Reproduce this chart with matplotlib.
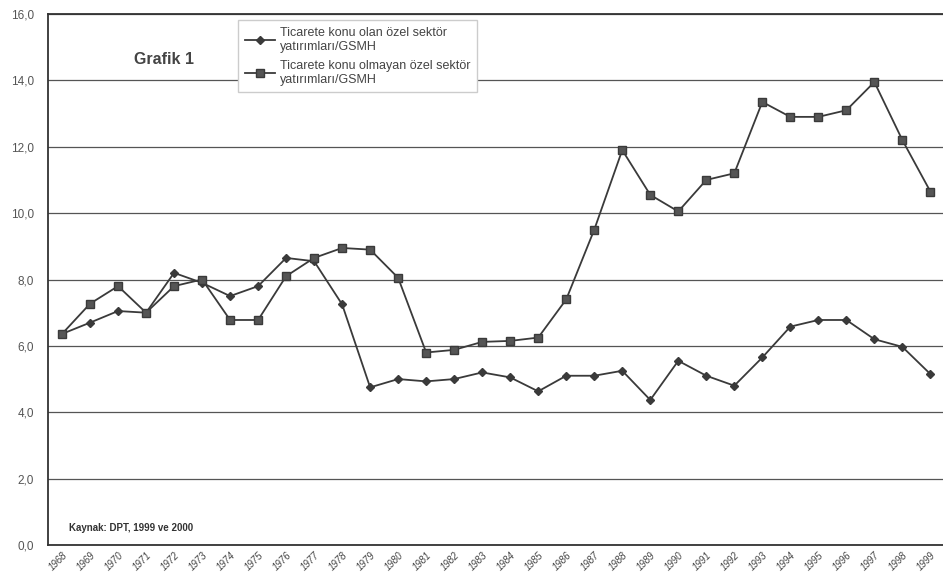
import matplotlib
matplotlib.use("Agg")
import matplotlib.pyplot as plt
from matplotlib.ticker import FuncFormatter

years = list(range(1968, 2000))
olan = [6.36, 6.7, 7.05, 7.0, 8.2, 7.9, 7.5, 7.8, 8.65, 8.55, 7.25, 4.75, 5.0, 4.93,
        5.0, 5.2, 5.05, 4.63, 5.1, 5.1, 5.25, 4.37, 5.55, 5.1, 4.8, 5.65, 6.58, 6.78,
        6.78, 6.2, 5.97, 5.15]
olmayan = [6.36, 7.27, 7.8, 7.0, 7.8, 8.0, 6.78, 6.78, 8.1, 8.65, 8.95, 8.9, 8.05, 5.8,
           5.88, 6.12, 6.15, 6.25, 7.4, 9.5, 11.9, 10.55, 10.05, 11.0, 11.2, 13.35, 12.9,
           12.9, 13.1, 13.95, 12.2, 10.65]
label_olan = "Ticarete konu olan özel sektör\nyatırımları/GSMH"
label_olmayan = "Ticarete konu olmayan özel sektör\nyatırımları/GSMH"
yticks = [0, 2, 4, 6, 8, 10, 12, 14, 16]

plt.rcParams['font.family'] = ['Liberation Sans', 'DejaVu Sans']

fig = plt.figure(figsize=(9.43, 5.83), dpi=100)
ax = fig.add_axes([48/943, 1-545/583, 895/943, 531/583])

col = '#3a3a3a'
ax.plot(years, olan, color=col, lw=1.3, marker='D', ms=4.5, mfc=col, mec=col, label=label_olan)
ax.plot(years, olmayan, color=col, lw=1.3, marker='s', ms=6, mfc='#555555', mec=col, label=label_olmayan)

ax.set_xlim(1967.5, 1999.45)
ax.set_ylim(0, 16)
ax.set_yticks(yticks)
ax.yaxis.set_major_formatter(FuncFormatter(lambda v, p: f"{v:.1f}".replace('.', ',')))
ax.set_xticks(years)
ax.set_xticklabels([str(y) for y in years], rotation=45, ha='right', rotation_mode='anchor',
                   fontsize=7, color='#444444', style='italic')
ax.tick_params(axis='y', labelsize=8.5, colors='#555555', length=0, pad=10)
ax.tick_params(axis='x', length=0, pad=4)
ax.grid(axis='y', color='#555555', lw=0.9)
ax.set_axisbelow(True)
for s in ['left', 'bottom', 'top']:
    ax.spines[s].set_color('#333333')
    ax.spines[s].set_linewidth(1.3)
ax.spines['right'].set_visible(False)

leg = ax.legend(loc='upper left', bbox_to_anchor=(0.205, 1.0), fontsize=9, frameon=True,
                fancybox=False, edgecolor='#cccccc', handlelength=2.4, labelspacing=0.55,
                borderpad=0.55, framealpha=1, handletextpad=0.4)
for t in leg.get_texts():
    t.set_color('#444444')

ax.text(0.13, 0.915, "Grafik 1", transform=ax.transAxes, fontsize=11.5, fontweight='bold',
        color='#444444', ha='center', va='center')
ax.text(0.024, 0.032, "Kaynak: DPT, 1999 ve 2000", transform=ax.transAxes, fontsize=7,
        fontweight='bold', color='#333333', ha='left', va='center')

fig.savefig("out.png", dpi=100)
